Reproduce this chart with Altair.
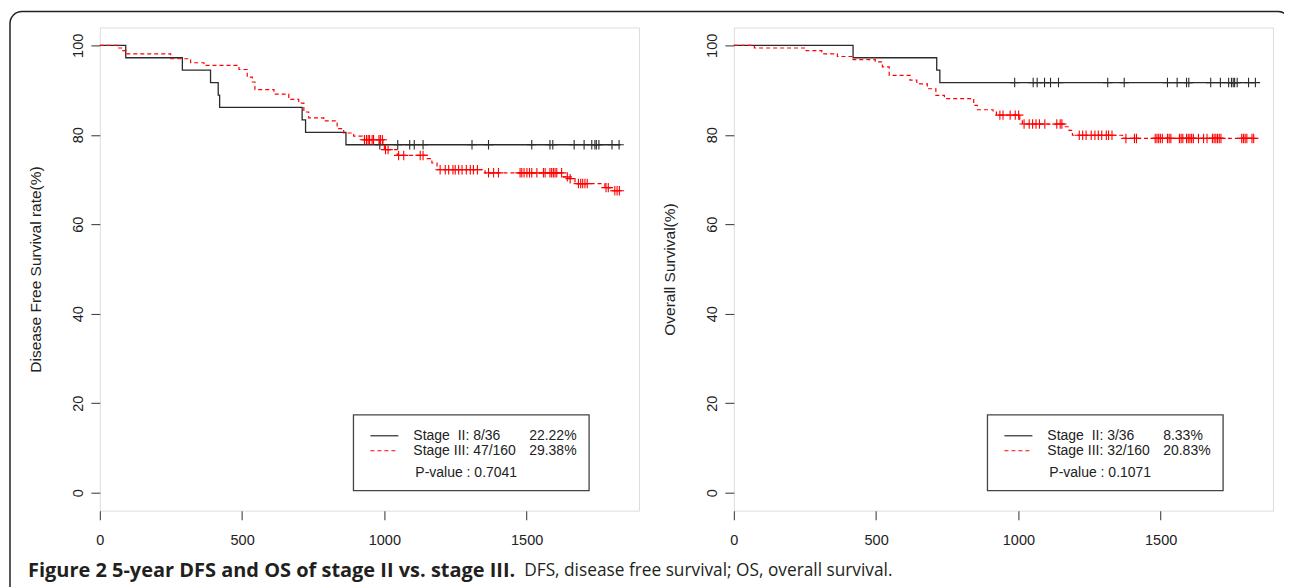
import altair as alt
import pandas as pd

FONT = "Liberation Sans"
CAP_FONT = "Open Sans"

X_MAX = 1895
Y_MIN, Y_MAX = -4, 104
TICKS_X = [0, 500, 1000, 1500]
TICKS_Y = [0, 20, 40, 60, 80, 100]

# ---------------- Disease free survival ----------------
dfs2_time = [0, 91, 290, 389, 416, 421, 711, 723, 865]
dfs2_surv = [100, 97.22, 94.44, 91.67, 88.89, 86.11, 83.33, 80.56, 77.78]
dfs2_end = 1830
dfs2_cens = [984, 1047, 1089, 1105, 1136, 1308, 1366, 1518, 1582, 1592, 1667,
             1702, 1729, 1740, 1745, 1754, 1800, 1825]

dfs3_time = [0, 60, 80, 92, 249, 319, 366, 489, 518, 536, 545, 612, 664, 699,
             717, 734, 787, 834, 857, 892, 922, 995, 1000, 1045, 1150, 1167,
             1185, 1354, 1629, 1650, 1670, 1775, 1800]
dfs3_surv = [100, 99.4, 98.8, 98.1, 97.0, 96.1, 95.5, 94.6, 92.9, 91.8, 90.1,
             89.1, 87.9, 87.1, 85.1, 83.8, 83.1, 81.4, 80.4, 79.7, 78.9, 77.9,
             76.7, 75.4, 74.7, 73.7, 72.2, 71.5, 70.6, 70.2, 69.1, 68.2, 67.5]
dfs3_end = 1830
dfs3_cens = [930, 937, 943, 948, 957, 962, 981, 986, 993, 1004, 1013, 1050,
             1068, 1126, 1136, 1196, 1214, 1226, 1241, 1249, 1261, 1273, 1288,
             1302, 1313, 1327, 1366, 1384, 1401, 1477, 1483, 1491, 1501, 1510,
             1518, 1536, 1559, 1565, 1582, 1588, 1594, 1600, 1606, 1623, 1643,
             1653, 1682, 1690, 1697, 1705, 1713, 1779, 1787, 1810, 1818, 1826]

# ---------------- Overall survival ----------------
os2_time = [0, 419, 713, 724]
os2_surv = [100, 97.22, 94.44, 91.67]
os2_end = 1835
os2_cens = [987, 1052, 1066, 1092, 1113, 1141, 1314, 1372, 1524, 1558, 1591,
            1599, 1676, 1710, 1739, 1749, 1755, 1760, 1769, 1809, 1833]

os3_time = [0, 72, 254, 309, 364, 419, 497, 522, 546, 619, 643, 680, 710, 740,
            843, 856, 911, 923, 1005, 1014, 1165, 1178, 1190, 1366]
os3_surv = [100, 99.4, 98.8, 98.1, 97.5, 96.8, 96.3, 95.2, 93.3, 92.2, 91.4,
            90.3, 88.8, 88.1, 86.6, 85.6, 85.1, 84.4, 83.4, 82.4, 81.8, 81.0,
            79.9, 79.2]
os3_end = 1835
os3_cens = [935, 946, 971, 989, 1001, 1020, 1038, 1050, 1062, 1074, 1093, 1135,
            1147, 1153, 1214, 1226, 1238, 1256, 1269, 1281, 1293, 1309, 1317,
            1329, 1378, 1408, 1415, 1481, 1487, 1493, 1499, 1506, 1524, 1530,
            1536, 1566, 1572, 1578, 1591, 1597, 1603, 1609, 1615, 1633, 1651,
            1663, 1682, 1688, 1694, 1700, 1706, 1712, 1785, 1791, 1797, 1803,
            1821, 1827]

NB = "\u00a0"
DFS_TITLE = "Disease Free Survival rate(%)"
OS_TITLE = "Overall Survival(%)"
DFS_LEGEND = [("Stage" + NB + NB + "II: 8/36", "22.22%"), ("Stage III: 47/160", "29.38%")]
OS_LEGEND = [("Stage" + NB + NB + "II: 3/36", "8.33%"), ("Stage III: 32/160", "20.83%")]
DFS_P = "P-value : 0.7041"
OS_P = "P-value : 0.1071"
CAPTION_BOLD = "Figure 2 5-year DFS and OS of stage II vs. stage III."
CAPTION_REST = "DFS, disease free survival; OS, overall survival."

PLUS = "M0,-1V1M-1,0H1"
BLACK = "#2b2b2b"
RED = "#ff0000"
ONE = pd.DataFrame({"k": [0]})


def step_df(times, surv, end):
    return pd.DataFrame({"t": list(times) + [end], "s": list(surv) + [surv[-1]]})


def cens_df(cens, times, surv):
    vals = []
    for c in cens:
        v = surv[0]
        for tt, sv in zip(times, surv):
            if tt <= c:
                v = sv
        vals.append(v)
    return pd.DataFrame({"t": cens, "s": vals})


def txt(s, x, y, size=14, weight="normal", font=FONT, color="#222"):
    return alt.Chart(ONE).mark_text(
        text=s, align="left", baseline="middle", font=font, fontSize=size,
        fontWeight=weight, color=color
    ).encode(x=alt.value(x), y=alt.value(y))


def panel(title, t2, s2, e2, c2, t3, s3, e3, c3, legend, pval, extra=()):
    xenc = alt.X("t:Q", scale=alt.Scale(domain=[0, X_MAX], nice=False, zero=False),
                 axis=alt.Axis(values=TICKS_X, format="d", title=None, domain=False,
                               grid=False, tickSize=9, tickColor="#444", tickWidth=1.1,
                               labelFont=FONT, labelFontSize=14.5, labelColor="#222",
                               labelPadding=14, labelFlush=False))
    yenc = alt.Y("s:Q", scale=alt.Scale(domain=[Y_MIN, Y_MAX], nice=False, zero=False),
                 axis=alt.Axis(values=TICKS_Y, format="d", title=title, domain=False,
                               grid=False, tickSize=9, tickColor="#444", tickWidth=1.1,
                               labelFont=FONT, labelFontSize=14.5, labelColor="#222",
                               labelAngle=270, labelAlign="center",
                               labelBaseline="alphabetic", labelPadding=8,
                               labelFlush=False,
                               titleFont=FONT, titleFontSize=15.5, titleFontWeight="normal",
                               titleColor="#222", titleAngle=270,
                               titleBaseline="alphabetic", titleX=-59, titleY=242))
    l2 = alt.Chart(step_df(t2, s2, e2)).mark_line(
        interpolate="step-after", color=BLACK, strokeWidth=1.3).encode(x=xenc, y=yenc)
    l3 = alt.Chart(step_df(t3, s3, e3)).mark_line(
        interpolate="step-after", color=RED, strokeWidth=1.2,
        strokeDash=[4, 3]).encode(x="t:Q", y="s:Q")
    p2 = alt.Chart(cens_df(c2, t2, s2)).mark_point(
        shape=PLUS, filled=False, size=90, strokeWidth=1.1, color=BLACK,
        opacity=1).encode(x="t:Q", y="s:Q")
    p3 = alt.Chart(cens_df(c3, t3, s3)).mark_point(
        shape=PLUS, filled=False, size=90, strokeWidth=1.1, color=RED,
        opacity=1).encode(x="t:Q", y="s:Q")
    box = alt.Chart(ONE).mark_rect(fill="white", stroke="#444", strokeWidth=1.3).encode(
        x=alt.value(254), x2=alt.value(490), y=alt.value(388), y2=alt.value(464))
    r2 = alt.Chart(ONE).mark_rule(color=BLACK, strokeWidth=1.2).encode(
        x=alt.value(271), x2=alt.value(299), y=alt.value(409))
    r3 = alt.Chart(ONE).mark_rule(color=RED, strokeWidth=1.2, strokeDash=[4, 3]).encode(
        x=alt.value(271), x2=alt.value(299), y=alt.value(424))
    texts = [
        txt(legend[0][0], 314, 409), txt(legend[0][1], 430, 409),
        txt(legend[1][0], 314, 424), txt(legend[1][1], 430, 424),
        txt(pval, 316, 446),
    ]
    return alt.layer(l2, l3, p2, p3, box, r2, r3, *texts, *extra).properties(
        width=540, height=484)


frame = alt.Chart(ONE).mark_rect(
    filled=False, stroke="#222", strokeWidth=1.5, cornerRadius=12).encode(
    x=alt.value(-90), x2=alt.value(1192), y=alt.value(-16), y2=alt.value(600))
cap1 = txt(CAPTION_BOLD, -72, 544, size=20, weight="bold", font=CAP_FONT, color="#231f20")
cap2 = txt(CAPTION_REST, 425, 544, size=17.3, weight="normal", font=CAP_FONT, color="#231f20")

left = panel(DFS_TITLE, dfs2_time, dfs2_surv, dfs2_end, dfs2_cens,
             dfs3_time, dfs3_surv, dfs3_end, dfs3_cens, DFS_LEGEND, DFS_P,
             extra=(frame, cap1, cap2))
right = panel(OS_TITLE, os2_time, os2_surv, os2_end, os2_cens,
              os3_time, os3_surv, os3_end, os3_cens, OS_LEGEND, OS_P)

chart = alt.hconcat(left, right, spacing=95, bounds="flush").properties(
    padding={"left": 0, "top": 1, "right": -8, "bottom": -40}
).configure_view(stroke="#555", strokeWidth=1.3).configure(background="white")

chart.save("out.html", embed_options={"renderer": "svg", "actions": False})
